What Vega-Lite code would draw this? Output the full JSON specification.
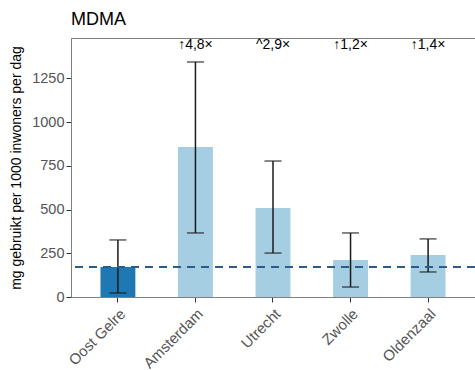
{
  "$schema": "https://vega.github.io/schema/vega-lite/v6.json",
  "autosize": {"type": "none"},
  "width": 404,
  "height": 259,
  "padding": {"left": 71, "top": 38, "right": 0, "bottom": 73},
  "background": "white",
  "config": {
    "font": "Liberation Sans",
    "view": {"stroke": "#808080", "strokeWidth": 1}
  },
  "title": {"text": "MDMA", "anchor": "start", "frame": "group", "fontSize": 18, "fontWeight": "normal", "color": "#000000", "offset": 9, "font": "Liberation Sans"},
  "data": {
    "values": [
      {"stad": "Oost Gelre", "waarde": 172, "laag": 23, "hoog": 326, "groep": "ref", "label": ""},
      {"stad": "Amsterdam", "waarde": 857, "laag": 366, "hoog": 1343, "groep": "ander", "label": "↑4,8×"},
      {"stad": "Utrecht", "waarde": 509, "laag": 251, "hoog": 777, "groep": "ander", "label": "^2,9×"},
      {"stad": "Zwolle", "waarde": 212, "laag": 57, "hoog": 366, "groep": "ander", "label": "↑1,2×"},
      {"stad": "Oldenzaal", "waarde": 240, "laag": 143, "hoog": 332, "groep": "ander", "label": "↑1,4×"}
    ]
  },
  "encoding": {
    "x": {
      "field": "stad", "type": "nominal", "sort": null,
      "scale": {"paddingInner": 0.55, "paddingOuter": 0.38},
      "axis": {"title": null, "labelAngle": -45, "labelFontSize": 15, "labelColor": "#555555", "domainColor": "#808080", "tickColor": "#333333", "tickSize": 5, "labelPadding": 4}
    }
  },
  "layer": [
    {
      "mark": {"type": "bar"},
      "encoding": {
        "y": {
          "field": "waarde", "type": "quantitative",
          "scale": {"domain": [0, 1480], "nice": false, "zero": true},
          "axis": {
            "title": "mg gebruikt per 1000 inwoners per dag",
            "titleFontSize": 14, "titleFontWeight": "normal", "titleColor": "#000000", "titlePadding": 8,
            "values": [0, 125, 250, 375, 500, 625, 750, 875, 1000, 1125, 1250, 1375],
            "labelExpr": "datum.value % 250 == 0 ? datum.label : ''",
            "format": "d",
            "labelFontSize": 14.5, "labelColor": "#555555", "grid": false, "labelPadding": 2,
            "domainColor": "#808080", "tickColor": "#333333", "tickSize": 5
          }
        },
        "color": {
          "field": "groep", "type": "nominal",
          "scale": {"domain": ["ref", "ander"], "range": ["#1f78b4", "#a6cee3"]},
          "legend": null
        }
      }
    },
    {
      "mark": {"type": "rule", "color": "#1a1a1a", "strokeWidth": 1.5},
      "encoding": {
        "y": {"field": "laag", "type": "quantitative"},
        "y2": {"field": "hoog"}
      }
    },
    {
      "mark": {"type": "tick", "color": "#1a1a1a", "thickness": 1.5, "size": 17, "orient": "horizontal"},
      "encoding": {"y": {"field": "laag", "type": "quantitative"}}
    },
    {
      "mark": {"type": "tick", "color": "#1a1a1a", "thickness": 1.5, "size": 17, "orient": "horizontal"},
      "encoding": {"y": {"field": "hoog", "type": "quantitative"}}
    },
    {
      "mark": {"type": "text", "fontSize": 14, "color": "#000000", "baseline": "middle"},
      "encoding": {
        "y": {"datum": 1440, "type": "quantitative"},
        "text": {"field": "label"}
      }
    },
    {
      "data": {"values": [{"ref": 172}]},
      "mark": {"type": "rule", "color": "#2b5d8c", "strokeWidth": 2, "strokeDash": [8, 6]},
      "encoding": {
        "x": null,
        "y": {"field": "ref", "type": "quantitative"}
      }
    }
  ]
}
